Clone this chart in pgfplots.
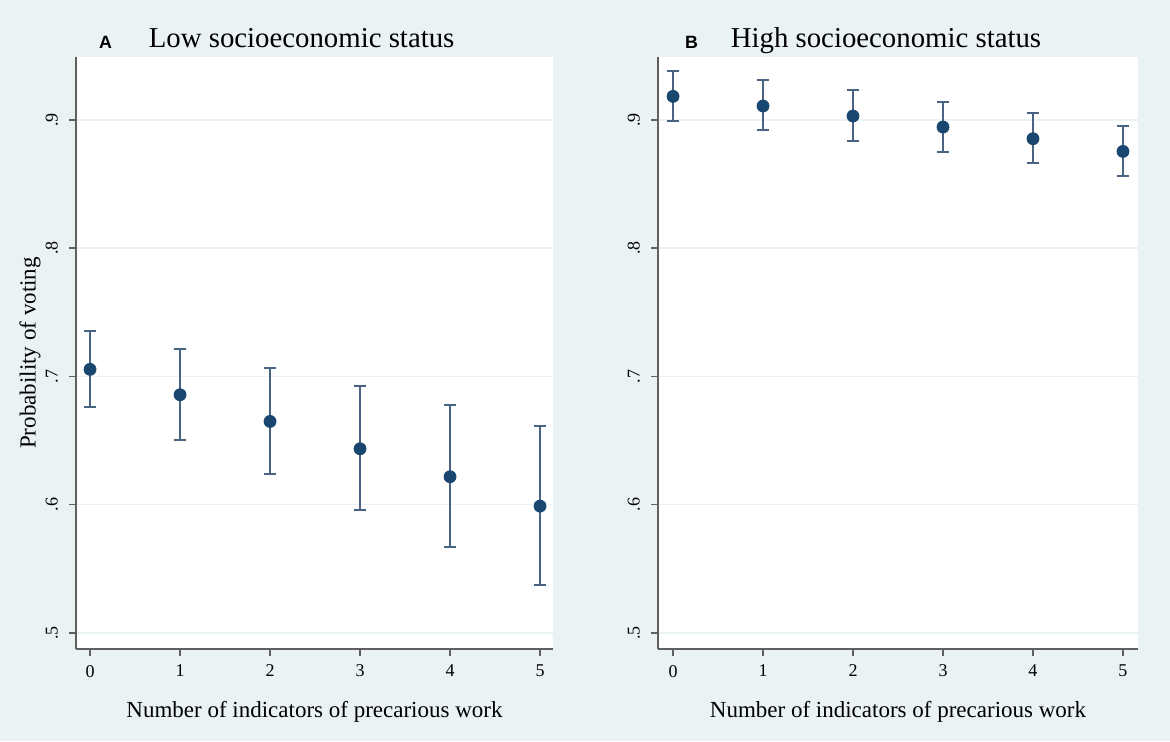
\documentclass[border=0pt]{standalone}
\usepackage{fontspec}
\setmainfont{Liberation Serif}
\setsansfont{Liberation Sans}
\usepackage{pgfplots}
\pgfplotsset{compat=1.18}
\usepackage{pgfplotstable}
\definecolor{bgcol}{RGB}{234,242,243}
\definecolor{gridcol}{RGB}{234,242,243}
\definecolor{navy}{RGB}{26,71,111}
\definecolor{barcol}{RGB}{72,100,130}
\definecolor{axiscol}{RGB}{95,95,95}

\pgfplotstableread{
x y ep em
0 0.7055 0.0298 0.0291
1 0.6857 0.0359 0.0351
2 0.6649 0.0419 0.0413
3 0.6436 0.0486 0.0481
4 0.6218 0.0556 0.0551
5 0.5989 0.0624 0.0616
}\lowses

\pgfplotstableread{
x y ep em
0 0.9183 0.0197 0.0195
1 0.9108 0.0200 0.0190
2 0.9030 0.0200 0.0195
3 0.8944 0.0195 0.0195
4 0.8853 0.0198 0.0192
5 0.8754 0.0198 0.0195
}\highses

\pgfplotsset{
 stataaxis/.style={
  scale only axis, height=296pt,
  axis x line*=bottom, axis y line*=left,
  axis line style={-, draw=axiscol, line width=1pt},
  axis background/.style={fill=white},
  ymin=0.4875, ymax=0.949,
  ytick={0.5,0.6,0.7,0.8,0.9}, yticklabels={.5,.6,.7,.8,.9},
  xtick={0,1,2,3,4,5}, xticklabels={0,1,2,3,4,5},
  tick align=outside, major tick length=3.5pt,
  tick style={draw=axiscol, line width=0.75pt},
  ymajorgrids, xmajorgrids=false,
  grid style={draw=gridcol, line width=0.75pt},
  ticklabel style={font=\fontsize{9}{10}\selectfont, text=black},
  xticklabel style={yshift=-1pt},
  yticklabel style={xshift=-2pt, rotate=90, anchor=south},
  xlabel={Number of indicators of precarious work},
  xlabel style={at={(axis description cs:0.5,-0.1064)}, anchor=center, font=\fontsize{11.5}{13}\selectfont},
  clip=false,
  /pgf/number format/assume math mode=true,
 },
 statapts/.style={only marks, mark=*, mark size=3pt,
   mark options={fill=navy, draw=navy},
   error bars/.cd, y dir=both, y explicit,
   error bar style={draw=barcol, line width=1pt},
   error mark options={rotate=90, draw=barcol, line width=1pt, mark size=3pt}},
}

\begin{document}
\begin{tikzpicture}
\fill[bgcol] (0,0) rectangle (585pt,370.5pt);

\begin{axis}[stataaxis, at={(38pt,46pt)}, anchor=south west,
  width=238.5pt, xmin=-0.156, xmax=5.144,
  ylabel={Probability of voting},
  every axis y label/.style={at={(axis description cs:-0.0964,0.5)}, rotate=90, anchor=center, font=\fontsize{11.5}{13}\selectfont},
]
\addplot[statapts] table[x=x, y=y, y error plus=ep, y error minus=em] {\lowses};
\node[font=\sffamily\bfseries\fontsize{8.9}{10}\selectfont, anchor=base, yshift=4pt] at (axis description cs:0.0618,1) {A};
\node[font=\fontsize{14.4}{16}\selectfont, anchor=base, yshift=4.5pt] at (axis description cs:0.473,1) {Low socioeconomic status};
\end{axis}

\begin{axis}[stataaxis, at={(329pt,46pt)}, anchor=south west,
  width=240pt, xmin=-0.167, xmax=5.167,
]
\addplot[statapts] table[x=x, y=y, y error plus=ep, y error minus=em] {\highses};
\node[font=\sffamily\bfseries\fontsize{8.9}{10}\selectfont, anchor=base, yshift=4pt] at (axis description cs:0.0698,1) {B};
\node[font=\fontsize{14.4}{16}\selectfont, anchor=base, yshift=4.5pt] at (axis description cs:0.475,1) {High socioeconomic status};
\end{axis}

\pgfresetboundingbox
\path (0,0) rectangle (585pt,370.5pt);
\end{tikzpicture}
\end{document}
